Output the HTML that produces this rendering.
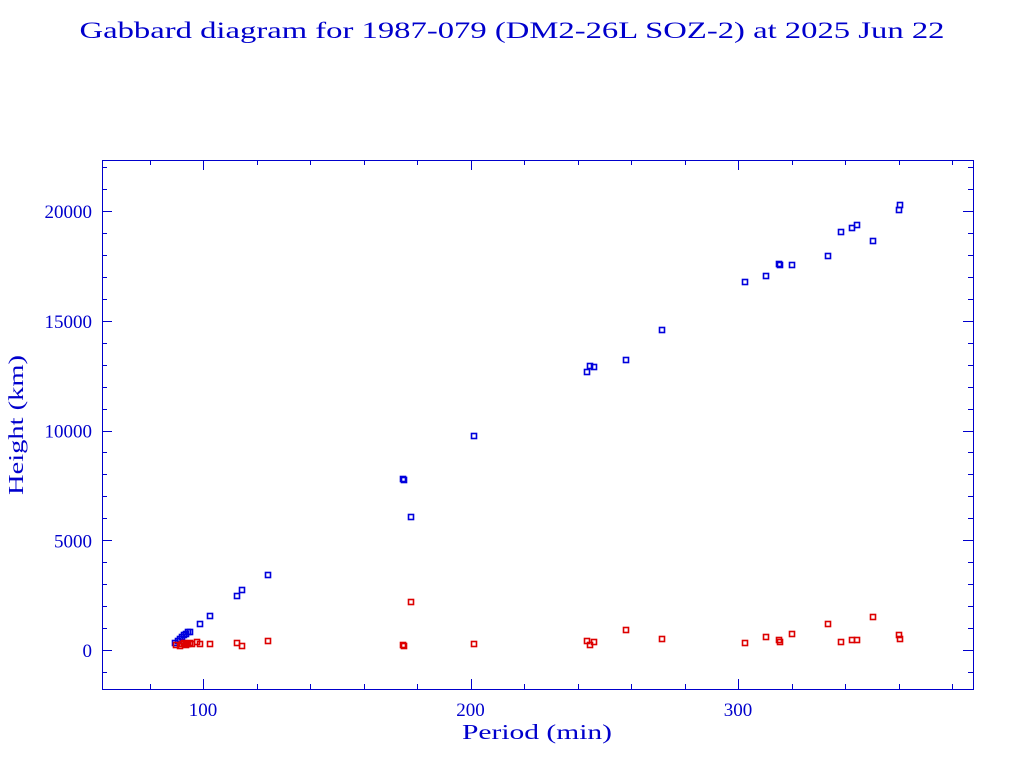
<!DOCTYPE html>
<html><head><meta charset="utf-8"><style>html,body{margin:0;padding:0;background:#fff}svg{display:block}</style></head>
<body>
<svg id="s" width="1024" height="768" xmlns="http://www.w3.org/2000/svg" font-family="Liberation Serif, serif" fill="#0000cc">
<text x="512" y="38" font-size="23" text-anchor="middle" textLength="865" lengthAdjust="spacingAndGlyphs">Gabbard diagram for 1987-079 (DM2-26L SOZ-2) at 2025 Jun 22</text>
<rect x="102.5" y="160.5" width="871" height="529" fill="none" stroke="#0000cc" stroke-width="1"/>
<text x="537" y="739" font-size="21" text-anchor="middle" textLength="150" lengthAdjust="spacingAndGlyphs">Period (min)</text>
<text transform="translate(23,425) rotate(-90)" font-size="21" text-anchor="middle" textLength="140" lengthAdjust="spacingAndGlyphs">Height (km)</text>
<g id="t" stroke="#0000cc" stroke-width="1"></g>
<g id="p"></g>
</svg>
<script>
var t=document.getElementById('t'),p=document.getElementById('p'),s=document.getElementById('s');
var NS='http://www.w3.org/2000/svg',h='';
function X(v){return 203+(v-100)*2.675}function Y(v){return 650-v*0.02195}
for(var v=80;v<=380;v+=20){var x=Math.round(X(v))+.5,L=(v%100==0)?10:5;
h+='<line x1="'+x+'" y1="689" x2="'+x+'" y2="'+(689-L)+'"/><line x1="'+x+'" y1="160" x2="'+x+'" y2="'+(160+L)+'"/>';}
for(var v=-1000;v<=22000;v+=1000){var y=Math.round(Y(v))+.5,L=(v%5000==0)?10:5;
h+='<line x1="102" y1="'+y+'" x2="'+(102+L)+'" y2="'+y+'"/><line x1="973" y1="'+y+'" x2="'+(973-L)+'" y2="'+y+'"/>';}
t.innerHTML=h;
var lab='';
[100,200,300].forEach(function(v){lab+='<text x="'+X(v)+'" y="716" font-size="19" text-anchor="middle">'+v+'</text>'});
[0,5000,10000,15000,20000].forEach(function(v){lab+='<text x="92" y="'+(Y(v)+7)+'" font-size="19" text-anchor="end">'+v+'</text>'});
var B=[[175,643],[178,641],[180,639],[182,637],[184,635],[186,634],[188,632],[190,632],[200,624],[210,616],[237,596],[242,590],[268,575],[403,479],[404,480],[411,517],[474,436],[587,372],[590,366],[594,367],[626,360],[662,330],[745,282],[766,276],[779,264],[780,265],[792,265],[828,256],[841,232],[852,228],[857,225],[873,241],[899,210],[900,205]];
var R=[[176,645],[180,646],[182,644],[184,643],[186,645],[188,644],[190,643],[192,644],[197,642],[200,644],[210,644],[237,643],[242,646],[268,641],[403,645],[404,646],[411,602],[474,644],[587,641],[590,645],[594,642],[626,630],[662,639],[745,643],[766,637],[779,640],[780,642],[792,634],[828,624],[841,642],[852,640],[857,640],[873,617],[899,635],[900,639]];
var m='';
B.forEach(function(a){m+='<rect x="'+(a[0]-2.5)+'" y="'+(a[1]-2.5)+'" width="5" height="5" fill="none" stroke="#0000dd" stroke-width="1.6"/>'});
R.forEach(function(a){m+='<rect x="'+(a[0]-2.5)+'" y="'+(a[1]-2.5)+'" width="5" height="5" fill="none" stroke="#dd0000" stroke-width="1.6"/>'});
p.innerHTML=lab+m;
</script>
</body></html>
